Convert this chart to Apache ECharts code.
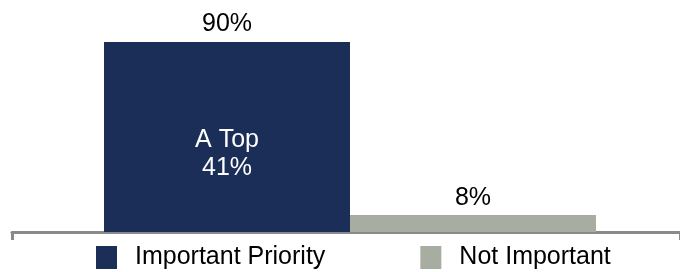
<!DOCTYPE html>
<html>
<head>
<meta charset="utf-8">
<script src="https://cdn.jsdelivr.net/npm/echarts@6/dist/echarts.min.js"></script>
<style>
html, body { margin: 0; padding: 0; background: #fff; }
#chart { width: 680px; height: 272px; }
</style>
</head>
<body>
<div id="chart"></div>
<script>
var categories = ['All']
var seriesNames = ['Important Priority', 'Not Important']
var seriesValues = [90, 8]
var seriesColors = ['#1a2e57', '#a8ada1']
var innerLabel = ['A Top', '41%']
var innerLabelLevel = 37

var myEchart = echarts.init(document.getElementById('chart'))
var series = []
seriesNames.forEach(function(name, i) {
	var s = {
		name: name,
		type: 'bar',
		xAxisIndex: 1,
		yAxisIndex: 1,
		data: [seriesValues[i]],
		barWidth: 246,
		barGap: 0,
		itemStyle: { color: seriesColors[i] },
		label: {
			show: true,
			position: 'top',
			distance: 5,
			formatter: '{c}%',
			color: '#000',
			fontSize: 25,
			fontFamily: 'Liberation Sans'
		}
	}
	if (i === 0) {
		s.markPoint = {
			symbol: 'rect',
			symbolSize: 1,
			itemStyle: { color: 'transparent' },
			label: {
				show: true,
				position: 'inside',
				color: '#fff',
				fontSize: 25,
				lineHeight: 28,
				fontFamily: 'Liberation Sans',
				formatter: innerLabel.join('\n')
			},
			data: [{ coord: [0, innerLabelLevel] }]
		}
	}
	series.push(s)
})

var option = {
	animation: false,
	grid: [
		// axis line grid
		{ left: 12, right: 0, top: 21, bottom: 40 },
		// bars grid
		{ left: 20, right: 0, top: 21, bottom: 40 }
	],
	legend: {
		left: 96,
		top: 245,
		padding: 0,
		itemWidth: 21,
		itemHeight: 23,
		itemGap: 95,
		icon: 'rect',
		textStyle: {
			color: '#000',
			fontSize: 25,
			fontFamily: 'Liberation Sans',
			padding: [0, 0, 0, 13]
		},
		data: seriesNames
	},
	xAxis: [{
		type: 'category',
		gridIndex: 0,
		data: categories,
		axisLine: { lineStyle: { color: '#8a8a8a', width: 3 } },
		axisTick: { show: true, length: 8, lineStyle: { color: '#8a8a8a', width: 3 } },
		axisLabel: { show: false }
	}, {
		type: 'category',
		gridIndex: 1,
		data: categories,
		show: false
	}],
	yAxis: [{
		type: 'value',
		gridIndex: 0,
		min: 0,
		max: 100,
		show: false
	}, {
		type: 'value',
		gridIndex: 1,
		min: 0,
		max: 100,
		show: false
	}],
	series: series
}
myEchart.setOption(option)
</script>
</body>
</html>
